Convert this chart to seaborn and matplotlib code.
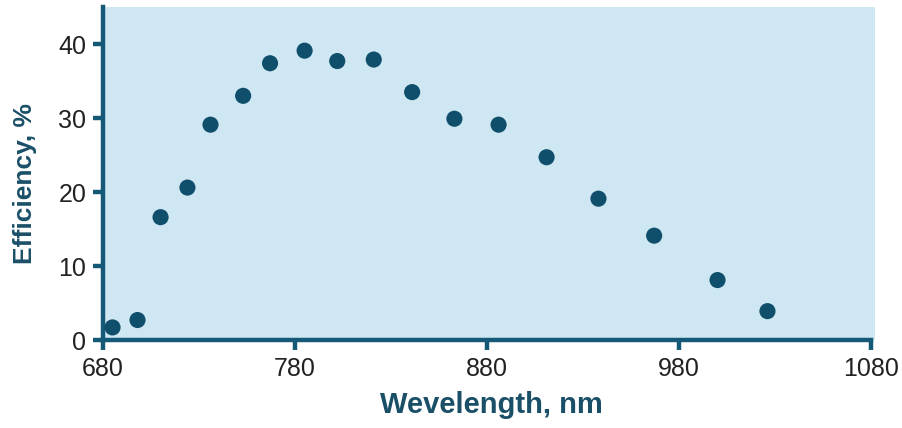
import matplotlib
matplotlib.use("Agg")
import matplotlib.pyplot as plt
import seaborn as sns
import pandas as pd

# --- Data ---
wavelength_nm = [685, 698, 710, 724, 736, 753, 767, 785, 802, 821,
                 841, 863, 886, 911, 938, 967, 1000, 1026]
efficiency_pct = [1.7, 2.7, 16.6, 20.6, 29.1, 33.0, 37.4, 39.1, 37.7, 37.9,
                  33.5, 29.9, 29.1, 24.7, 19.1, 14.1, 8.1, 3.9]
x_ticks = [680, 780, 880, 980, 1080]
y_ticks = [0, 10, 20, 30, 40]

df = pd.DataFrame({"wavelength": wavelength_nm, "efficiency": efficiency_pct})

# --- Style ---
sns.set_style("ticks")
plt.rcParams["font.family"] = ["Liberation Sans", "DejaVu Sans"]

axis_col = "#145a78"
dot_col = "#0f4f6b"
label_col = "#1a4f68"
bg_col = "#cfe7f3"

fig = plt.figure(figsize=(9.03, 4.28), dpi=100)
ax = fig.add_axes([0.114, 0.2056, 0.855, 0.778])
ax.set_facecolor(bg_col)

sns.scatterplot(data=df, x="wavelength", y="efficiency", ax=ax,
                color=dot_col, s=135, edgecolor="none", clip_on=False, zorder=3)

ax.set_xlim(680, 1082)
ax.set_ylim(0, 45)
ax.set_xticks(x_ticks)
ax.set_yticks(y_ticks)

for side in ["top", "right"]:
    ax.spines[side].set_visible(False)
for side in ["left", "bottom"]:
    ax.spines[side].set_color(axis_col)
    ax.spines[side].set_linewidth(3.2)
ax.spines["bottom"].set_bounds(680, 1080)

ax.tick_params(axis="both", direction="out", length=7, width=3.2,
               color=axis_col, labelsize=18, labelcolor="#222222", pad=5)

ax.set_xlabel("Wevelength, nm", fontsize=21, fontweight="bold", color=label_col)
ax.set_ylabel("Efficiency, %", fontsize=19, fontweight="bold", color=label_col)
ax.xaxis.set_label_coords(0.503, -0.195)
ax.yaxis.set_label_coords(-0.101, 0.47)
ax.xaxis.label.set_va("center")
ax.yaxis.label.set_va("center")

fig.savefig("out.png", dpi=100)
plt.close(fig)
